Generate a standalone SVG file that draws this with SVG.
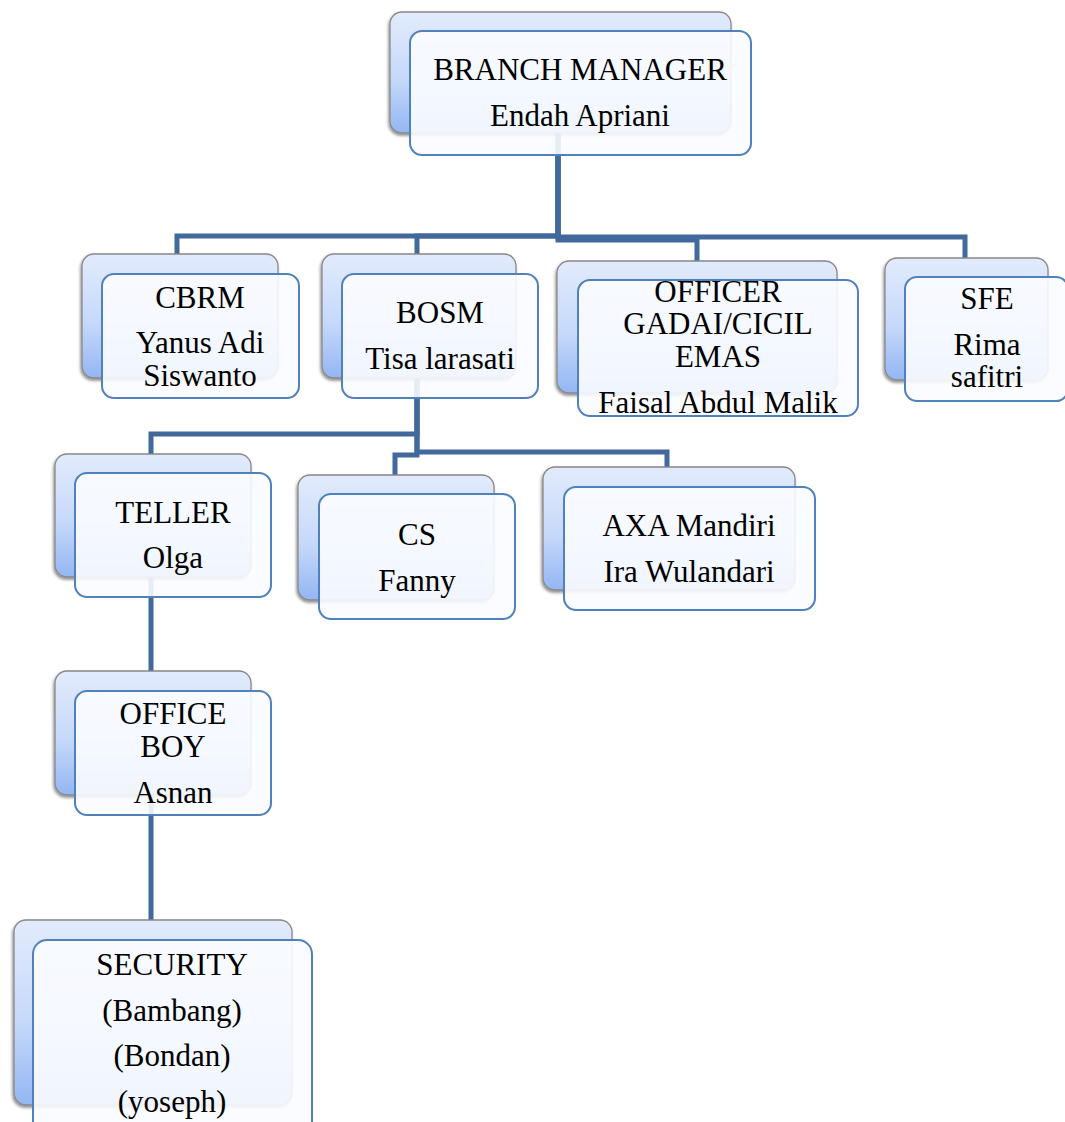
<svg xmlns="http://www.w3.org/2000/svg" width="1065" height="1122" viewBox="0 0 1065 1122">
<defs>
<linearGradient id="bg" x1="0" y1="0" x2="0" y2="1">
<stop offset="0" stop-color="#e2ebfc"/>
<stop offset="0.55" stop-color="#c6d9fa"/>
<stop offset="1" stop-color="#93b6f3"/>
</linearGradient>
<filter id="sh" x="-10%" y="-10%" width="120%" height="125%">
<feDropShadow dx="-1" dy="2" stdDeviation="1.5" flood-color="#000" flood-opacity="0.45"/>
</filter>
</defs>
<style>
.back{fill:url(#bg);stroke:#888;stroke-width:1.3;filter:url(#sh)}
.front{fill:#fbfcff;fill-opacity:0.9;stroke:#4f81bd;stroke-width:2}
.c{fill:none;stroke:#41699c;stroke-width:5;stroke-linejoin:miter}
text{font-family:"Liberation Serif","Times New Roman",serif;font-size:31px;fill:#000;text-anchor:middle}
</style>
<rect width="1065" height="1122" fill="#fff"/>
<g id="connectors">
<path class="c" d="M558,133 V236 H177 V256"/>
<path class="c" d="M558,133 V236 H417 V256"/>
<path class="c" d="M558,133 V240 H697 V263"/>
<path class="c" d="M558,133 V237 H965 V260"/>
<path class="c" d="M417,378 V434 H151 V455"/>
<path class="c" d="M417,378 V455 H395 V477"/>
<path class="c" d="M417,378 V452 H667 V469"/>
<path class="c" d="M151,577 V673"/>
<path class="c" d="M151,795 V922"/>
</g>
<g id="branch-manager">
<rect class="back" x="390" y="12" width="341" height="121" rx="12"/>
<rect class="front" x="410" y="31" width="341" height="124" rx="12"/>
<text x="580" y="80">BRANCH MANAGER</text>
<text x="580" y="126">Endah Apriani</text>
</g>
<g id="cbrm">
<rect class="back" x="82" y="254" width="196" height="124" rx="12"/>
<rect class="front" x="102" y="274" width="197" height="124" rx="12"/>
<text x="200" y="308">CBRM</text>
<text x="200" y="353">Yanus Adi</text>
<text x="200" y="386">Siswanto</text>
</g>
<g id="bosm">
<rect class="back" x="322" y="254" width="194" height="124" rx="12"/>
<rect class="front" x="342" y="274" width="196" height="124" rx="12"/>
<text x="440" y="323">BOSM</text>
<text x="440" y="369">Tisa larasati</text>
</g>
<g id="officer-gadai">
<rect class="back" x="557" y="261" width="280" height="132" rx="12"/>
<rect class="front" x="578" y="280" width="280" height="136" rx="12"/>
<text x="718" y="302">OFFICER</text>
<text x="718" y="334">GADAI/CICIL</text>
<text x="718" y="367">EMAS</text>
<text x="718" y="413">Faisal Abdul Malik</text>
</g>
<g id="sfe">
<rect class="back" x="885" y="258" width="163" height="122" rx="12"/>
<rect class="front" x="905" y="277" width="163" height="124" rx="12"/>
<text x="987" y="309">SFE</text>
<text x="987" y="355">Rima</text>
<text x="987" y="387">safitri</text>
</g>
<g id="teller">
<rect class="back" x="55" y="454" width="196" height="123" rx="12"/>
<rect class="front" x="75" y="473" width="196" height="124" rx="12"/>
<text x="173" y="523">TELLER</text>
<text x="173" y="568">Olga</text>
</g>
<g id="cs">
<rect class="back" x="298" y="475" width="196" height="125" rx="12"/>
<rect class="front" x="319" y="494" width="196" height="125" rx="12"/>
<text x="417" y="545">CS</text>
<text x="417" y="591">Fanny</text>
</g>
<g id="axa-mandiri">
<rect class="back" x="543" y="467" width="252" height="123" rx="12"/>
<rect class="front" x="564" y="487" width="251" height="123" rx="12"/>
<text x="689" y="536">AXA Mandiri</text>
<text x="689" y="582">Ira Wulandari</text>
</g>
<g id="office-boy">
<rect class="back" x="55" y="671" width="196" height="124" rx="12"/>
<rect class="front" x="75" y="691" width="196" height="124" rx="12"/>
<text x="173" y="724">OFFICE</text>
<text x="173" y="757">BOY</text>
<text x="173" y="803">Asnan</text>
</g>
<g id="security">
<rect class="back" x="14" y="920" width="278" height="185" rx="12"/>
<rect class="front" x="33" y="940" width="279" height="200" rx="14"/>
<text x="172" y="975">SECURITY</text>
<text x="172" y="1021">(Bambang)</text>
<text x="172" y="1066">(Bondan)</text>
<text x="172" y="1112">(yoseph)</text>
</g>
</svg>
